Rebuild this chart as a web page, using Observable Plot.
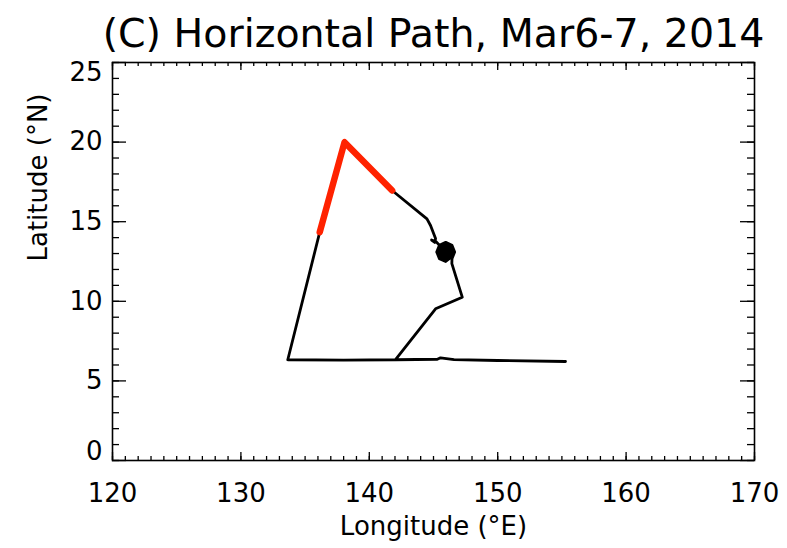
<!DOCTYPE html>
<html>
<head>
<meta charset="utf-8">
<script src="https://cdn.jsdelivr.net/npm/d3@7"></script>
<script src="https://cdn.jsdelivr.net/npm/@observablehq/plot@0.6"></script>
<style>
  html, body { margin: 0; padding: 0; background: #fff; }
</style>
</head>
<body>
<div id="chart"></div>
<script>
// Track of the air parcel (longitude °E, latitude °N), in travel order;
// it winds tightly around 146°E, 13°N before heading north-west
const trackLon = [155.28, 150.0, 146.6, 145.55, 145.3, 142.04, 145.16, 147.24, 146.43,
  146.44, 146.65, 146.44, 145.95, 145.46, 145.25, 145.46, 145.95,
  146.35, 146.51, 146.35, 145.95, 145.55, 145.39, 145.55, 145.95,
  146.25, 146.37, 146.25, 145.95, 145.65, 145.53, 145.65, 145.95,
  146.15, 146.23, 146.15, 145.95, 145.75, 145.67, 145.75, 145.95,
  146.09, 145.95, 145.81, 145.95, 145.95,
  145.46, 145.2, 144.85, 145.1, 145.16, 144.77, 144.49, 141.78, 138.07, 136.14, 133.65, 138.0, 142.04];
const trackLat = [6.22, 6.28, 6.34, 6.45, 6.36, 6.33, 9.53, 10.26, 12.37,
  12.68, 13.1, 13.52, 13.7, 13.52, 13.1, 12.68, 12.5,
  12.76, 13.1, 13.44, 13.58, 13.44, 13.1, 12.76, 12.62,
  12.85, 13.1, 13.35, 13.46, 13.35, 13.1, 12.85, 12.74,
  12.93, 13.1, 13.27, 13.34, 13.27, 13.1, 12.93, 12.86,
  13.1, 13.22, 13.1, 12.98, 13.1,
  13.52, 13.75, 13.85, 13.7, 13.94, 14.76, 15.18, 16.96, 19.99, 14.34, 6.33, 6.31, 6.33];

// Highlighted portion of the track
const redLon = [141.78, 138.07, 136.14];
const redLat = [16.96, 19.99, 14.34];

// Axis ticks
const xMajor = [120, 130, 140, 150, 160, 170];
const yMajor = [0, 5, 10, 15, 20, 25];
const xMinor = d3.range(120, 171, 1);
const yMinor = d3.range(0, 26, 1);

const track = trackLon.map((x, i) => ({x, y: trackLat[i]}));
const red = redLon.map((x, i) => ({x, y: redLat[i]}));

const W = 787, H = 548;
const mt = 62, mr = 33, mb = 88, ml = 112;
const fw = W - ml - mr, fh = H - mt - mb;
const font = "DejaVu Sans, sans-serif";

const chart = Plot.plot({
  width: W,
  height: H,
  marginTop: mt,
  marginRight: mr,
  marginBottom: mb,
  marginLeft: ml,
  style: {fontFamily: font, fontSize: "26px", color: "#000", background: "#fff"},
  x: {domain: [120, 170], axis: null},
  y: {domain: [0, 25], axis: null},
  marks: [
    // inward ticks on all four sides
    Plot.tickX(xMinor, {x: d => d, insetTop: fh - 4, stroke: "#000", strokeWidth: 1.3}),
    Plot.tickX(xMinor, {x: d => d, insetBottom: fh - 4, stroke: "#000", strokeWidth: 1.3}),
    Plot.tickX(xMajor, {x: d => d, insetTop: fh - 8, stroke: "#000", strokeWidth: 1.3}),
    Plot.tickX(xMajor, {x: d => d, insetBottom: fh - 8, stroke: "#000", strokeWidth: 1.3}),
    Plot.tickY(yMinor, {y: d => d, insetRight: fw - 7, stroke: "#000", strokeWidth: 1.3}),
    Plot.tickY(yMinor, {y: d => d, insetLeft: fw - 7, stroke: "#000", strokeWidth: 1.3}),
    Plot.tickY(yMajor, {y: d => d, insetRight: fw - 14, stroke: "#000", strokeWidth: 1.3}),
    Plot.tickY(yMajor, {y: d => d, insetLeft: fw - 14, stroke: "#000", strokeWidth: 1.3}),
    Plot.frame({stroke: "#000", strokeWidth: 1.6}),

    // tick labels
    Plot.text(xMajor, {x: d => d, text: d => String(d), frameAnchor: "bottom", dy: 33, lineAnchor: "middle", fill: "#000"}),
    Plot.text(yMajor.filter(d => d > 0 && d < 25), {y: d => d, text: d => String(d), frameAnchor: "left", dx: -10, textAnchor: "end", lineAnchor: "middle", fill: "#000"}),
    Plot.text([25], {y: d => d, text: d => String(d), frameAnchor: "left", dx: -10, dy: 10, textAnchor: "end", lineAnchor: "middle", fill: "#000"}),
    Plot.text([0], {y: d => d, text: d => String(d), frameAnchor: "left", dx: -10, dy: -9, textAnchor: "end", lineAnchor: "middle", fill: "#000"}),

    // axis titles and chart title
    Plot.text(["Longitude (°E)"], {frameAnchor: "bottom", dy: 66, lineAnchor: "middle", fill: "#000"}),
    Plot.text(["Latitude (°N)"], {frameAnchor: "left", dx: -74, rotate: -90, lineAnchor: "middle", fill: "#000"}),
    Plot.text(["(C) Horizontal Path, Mar6-7, 2014"], {frameAnchor: "top", dy: -28, lineAnchor: "middle", fontSize: 39.5, fill: "#000"}),

    // the track and its highlighted segment
    Plot.line(track, {x: "x", y: "y", stroke: "#000", strokeWidth: 2.8, strokeLinejoin: "round", strokeLinecap: "round"}),
    Plot.line(red, {x: "x", y: "y", stroke: "#ff2200", strokeWidth: 6.5, strokeLinejoin: "round"})
  ]
});

document.getElementById("chart").appendChild(chart);
</script>
</body>
</html>
